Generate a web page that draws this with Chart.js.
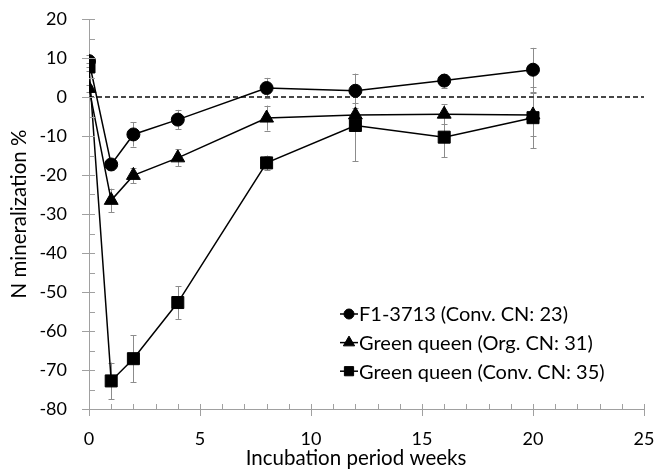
<!DOCTYPE html>
<html>
<head>
<meta charset="utf-8">
<script src="https://cdn.jsdelivr.net/npm/chart.js@4.4.1/dist/chart.umd.min.js"></script>
<style>
  html, body { margin: 0; padding: 0; background: #fff; }
  #wrap { width: 656px; height: 472px; }
</style>
</head>
<body>
<div id="wrap"><canvas id="chart" width="656" height="472"></canvas></div>
<script>
// incubation weeks (x) and N mineralization % (y)
var weeks = [0, 1, 2, 4, 8, 12, 16, 20];

var f1Conv = [9.2, -17.3, -9.6, -5.8, 2.3, 1.6, 4.2, 7.0];
var f1ConvErr = [1.5, 1.5, 3.1, 2.5, 2.6, 4.4, 1.8, 5.6];

var gqOrg = [2.2, -26.5, -20.1, -15.6, -5.4, -4.6, -4.4, -4.6];
var gqOrgErr = [1.0, 3.0, 2.0, 2.2, 3.2, 3.0, 2.6, 5.5];

var gqConv = [7.7, -72.8, -67.1, -52.7, -16.9, -7.3, -10.3, -5.3];
var gqConvErr = [1.0, 4.7, 6.0, 4.2, 1.9, 9.2, 5.2, 7.8];

var seriesLabels = ["F1-3713 (Conv. CN: 23)", "Green queen (Org. CN: 31)", "Green queen (Conv. CN: 35)"];
var seriesStyles = ["circle", "triangle", "rect"];

var xTicks = [0, 5, 10, 15, 20, 25];
var yTicks = [-80, -70, -60, -50, -40, -30, -20, -10, 0, 10, 20];

var FONT = "Lato";

function pts(ys) {
    return weeks.map(function (w, i) { return {x: w, y: ys[i]}; });
}

// gray error bars, drawn under the markers
var errorBars = {
    id: "errorBars",
    beforeDatasetsDraw: function (chart) {
        var ctx = chart.ctx;
        var ys = chart.scales.y;
        ctx.save();
        ctx.strokeStyle = "#8c8c8c";
        ctx.lineWidth = 1;
        chart.data.datasets.forEach(function (ds, di) {
            if (!ds.errors) return;
            var meta = chart.getDatasetMeta(di);
            meta.data.forEach(function (el, i) {
                var v = ds.data[i].y, e = ds.errors[i];
                var top = ys.getPixelForValue(v + e), bot = ys.getPixelForValue(v - e);
                var x = Math.round(el.x) + 0.5;
                ctx.beginPath();
                ctx.moveTo(x, top); ctx.lineTo(x, bot);
                ctx.moveTo(x - 3, Math.round(top) + 0.5); ctx.lineTo(x + 3, Math.round(top) + 0.5);
                ctx.moveTo(x - 3, Math.round(bot) + 0.5); ctx.lineTo(x + 3, Math.round(bot) + 0.5);
                ctx.stroke();
            });
        });
        ctx.restore();
    }
};

// Excel-like tick marks: major ticks cross the axis, minor ticks inside
var axisTicks = {
    id: "axisTicks",
    afterDraw: function (chart) {
        var ctx = chart.ctx, xs = chart.scales.x, ys = chart.scales.y;
        var area = chart.chartArea;
        ctx.save();
        ctx.strokeStyle = "#a0a0a0";
        ctx.lineWidth = 1;
        ctx.beginPath();
        for (var v = xs.min; v <= xs.max; v += 1) {
            var px = Math.round(xs.getPixelForValue(v)) + 0.5;
            var major = v % 5 === 0;
            ctx.moveTo(px, area.bottom - 5);
            ctx.lineTo(px, area.bottom + (major ? 7 : 0));
        }
        for (var w = ys.min; w <= ys.max; w += 5) {
            var py = Math.round(ys.getPixelForValue(w)) + 0.5;
            var maj = w % 10 === 0;
            ctx.moveTo(area.left - (maj ? 7 : 0), py);
            ctx.lineTo(area.left + 6, py);
        }
        ctx.stroke();
        ctx.restore();
    }
};

// legend box inside the plot, bottom right
var insideLegend = {
    id: "insideLegend",
    afterDraw: function (chart) {
        var ctx = chart.ctx;
        var x0 = 340, y0 = 314, rowH = 28.6;
        ctx.save();
        ctx.font = "20px " + FONT;
        ctx.textBaseline = "middle";
        ctx.textAlign = "left";
        seriesLabels.forEach(function (label, i) {
            var y = y0 + i * rowH;
            ctx.strokeStyle = "#000";
            ctx.lineWidth = 1.5;
            ctx.beginPath();
            ctx.moveTo(x0, y); ctx.lineTo(x0 + 18, y);
            ctx.stroke();
            ctx.fillStyle = "#000";
            ctx.lineWidth = 1;
            Chart.helpers.drawPoint(ctx, {
                pointStyle: seriesStyles[i],
                radius: seriesStyles[i] === "circle" ? 5 : 6.5,
                rotation: 0,
                borderWidth: 1
            }, x0 + 9, y);
            ctx.fillStyle = "#000";
            ctx.fillText(label, x0 + 19, y + 1);
        });
        ctx.restore();
    }
};

function series(label, ys, errs, style, radius, order) {
    return {
        label: label,
        data: pts(ys),
        errors: errs,
        borderColor: "#000",
        backgroundColor: "#000",
        borderWidth: 1.5,
        pointStyle: style,
        pointRadius: radius,
        pointHoverRadius: radius,
        pointBackgroundColor: "#000",
        pointBorderColor: "#000",
        pointBorderWidth: 1,
        tension: 0,
        order: order
    };
}

var zeroLine = {
    label: "zero",
    data: [{x: xTicks[0], y: 0}, {x: xTicks[xTicks.length - 1], y: 0}],
    borderColor: "#474747",
    borderWidth: 2,
    borderDash: [5, 3],
    pointRadius: 0,
    order: 5
};

new Chart(document.getElementById("chart"), {
    type: "line",
    data: {
        datasets: [
            series(seriesLabels[0], f1Conv, f1ConvErr, seriesStyles[0], 6.5, 3),
            series(seriesLabels[1], gqOrg, gqOrgErr, seriesStyles[1], 8, 2),
            series(seriesLabels[2], gqConv, gqConvErr, seriesStyles[2], 8.5, 1),
            zeroLine
        ]
    },
    options: {
        responsive: false,
        animation: false,
        layout: { padding: { top: 19, right: 12, left: 0, bottom: 0 } },
        plugins: {
            legend: { display: false },
            tooltip: { enabled: false }
        },
        scales: {
            x: {
                type: "linear",
                min: xTicks[0],
                max: xTicks[xTicks.length - 1],
                afterFit: function (s) { s.height = 63; s.paddingLeft = 0; s.paddingRight = 0; },
                afterBuildTicks: function (s) { s.ticks = xTicks.map(function (v) { return {value: v}; }); },
                grid: { display: false, drawTicks: false, tickLength: 0 },
                border: { display: true, color: "#a0a0a0", width: 1 },
                ticks: { color: "#000", font: { family: FONT, size: 18 }, padding: 19, maxRotation: 0 },
                title: {
                    display: true,
                    text: "Incubation period weeks    ",
                    color: "#000",
                    font: { family: FONT, size: 20.5 },
                    padding: { top: 0, bottom: 1 }
                }
            },
            y: {
                min: yTicks[0],
                max: yTicks[yTicks.length - 1],
                afterFit: function (s) { s.width = 89; s.paddingTop = 0; s.paddingBottom = 0; },
                afterBuildTicks: function (s) { s.ticks = yTicks.map(function (v) { return {value: v}; }); },
                grid: { display: false, drawTicks: false, tickLength: 0 },
                border: { display: true, color: "#a0a0a0", width: 1 },
                ticks: { color: "#000", font: { family: FONT, size: 18 }, padding: 22 },
                title: {
                    display: true,
                    text: "N mineralization %",
                    color: "#000",
                    font: { family: FONT, size: 20.5 },
                    padding: { top: 7, bottom: 0 }
                }
            }
        }
    },
    plugins: [errorBars, axisTicks, insideLegend]
});
</script>
</body>
</html>
